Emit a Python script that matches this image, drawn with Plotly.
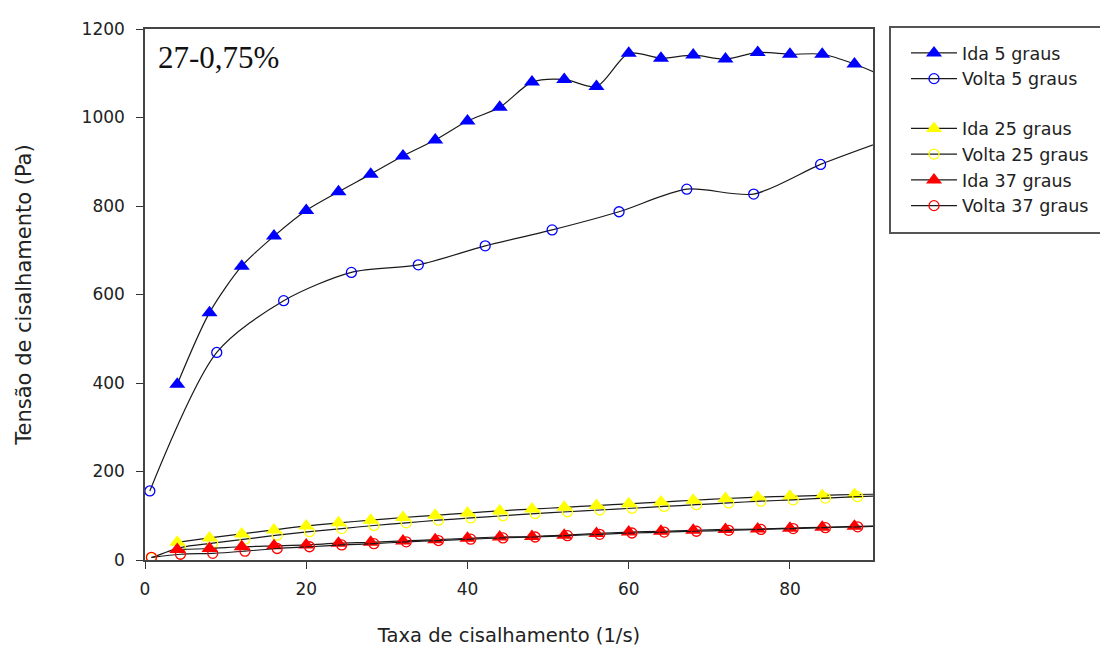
import plotly.graph_objects as go

# ---- data ----
x_ida = [4, 8, 12, 16, 20, 24, 28, 32, 36, 40, 44, 48, 52, 56, 60, 64, 68, 72, 76, 80, 84, 88, 92]
ida_5 = [397, 559, 664, 732, 790, 832, 872, 913, 949, 992, 1023, 1080, 1086, 1070, 1145, 1134, 1141, 1132, 1147, 1143, 1143, 1121, 1090]

x_volta_5 = [0.6, 8.9, 17.2, 25.6, 33.9, 42.2, 50.5, 58.8, 67.2, 75.5, 83.8, 92.1]
volta_5 = [156, 469, 586, 650, 667, 710, 746, 787, 838, 827, 894, 950]

ida_25 = [40, 50, 59, 68, 77, 84, 90, 96, 101, 106, 111, 115, 119, 123, 127, 131, 135, 139, 142, 144, 146, 148, 149]

x_volta = [0.8, 4.4, 8.4, 12.4, 16.4, 20.4, 24.4, 28.4, 32.4, 36.4, 40.4, 44.4, 48.4,
           52.4, 56.4, 60.4, 64.4, 68.4, 72.4, 76.4, 80.4, 84.4, 88.4, 92.4]
volta_25 = [5, 28, 38, 47, 56, 64, 71, 78, 84, 90, 95, 100, 105, 109, 113, 117, 121, 125, 129, 133, 136, 140, 143, 146]

ida_37 = [24, 26, 30, 32, 34, 38, 40, 43, 46, 49, 52, 53, 56, 60, 63, 65, 67, 69, 70, 72, 74, 76, 77]
volta_37 = [6, 13, 15, 20, 26, 30, 34, 37, 41, 44, 47, 50, 52, 55, 58, 61, 63, 65, 67, 69, 71, 73, 75, 77]

names = ["Ida 5 graus", "Volta 5 graus", "Ida 25 graus", "Volta 25 graus", "Ida 37 graus", "Volta 37 graus"]
x_ticks = [0, 20, 40, 60, 80]
y_ticks = [0, 200, 400, 600, 800, 1000, 1200]

BLUE = "#0000ff"
YELLOW = "#ffff00"
RED = "#ff0000"
LINE = "#1a1a1a"

series = [
    (names[0], x_ida, ida_5, "triangle-up", BLUE, "g1"),
    (names[1], x_volta_5, volta_5, "circle-open", BLUE, "g1"),
    (names[2], x_ida, ida_25, "triangle-up", YELLOW, "g2"),
    (names[3], x_volta, volta_25, "circle-open", YELLOW, "g2"),
    (names[4], x_ida, ida_37, "triangle-up", RED, "g2"),
    (names[5], x_volta, volta_37, "circle-open", RED, "g2"),
]

fig = go.Figure()
for name, xs, ys, sym, col, grp in series:
    is_open = sym.endswith("open")
    fig.add_trace(go.Scatter(
        x=xs, y=ys, name=name, mode="lines+markers", legendgroup=grp,
        line=dict(color=LINE, width=1.2, shape="spline", smoothing=0.8),
        marker=dict(symbol=sym, color=col, size=10 if is_open else 14,
                    line=dict(color=col, width=1.3 if is_open else 0)),
    ))

axis_font = dict(family="DejaVu Sans", size=17, color="#222")
fig.update_xaxes(
    range=[0, 90.3], tickvals=x_ticks, ticks="outside", ticklen=7, tickwidth=1.2,
    tickcolor="#333", showline=True, linecolor="#444", linewidth=1.5, mirror=True,
    showgrid=False, zeroline=False, tickfont=axis_font, ticklabelstandoff=6,
    automargin=False,
    title=dict(text="Taxa de cisalhamento (1/s)", font=dict(family="DejaVu Sans", size=19.5, color="#222"), standoff=30),
)
fig.update_yaxes(
    range=[0, 1200], tickvals=y_ticks, ticks="outside", ticklen=7, tickwidth=1.2,
    tickcolor="#333", showline=True, linecolor="#444", linewidth=1.5, mirror=True,
    showgrid=False, zeroline=False, tickfont=axis_font, ticklabelstandoff=8,
    automargin=False,
    title=dict(text="Tensão de cisalhamento (Pa)", font=dict(family="DejaVu Sans", size=21, color="#222"), standoff=44),
)

fig.add_annotation(
    text="27-0,75%", xref="paper", yref="paper", x=0.0155, y=0.946,
    xanchor="left", yanchor="middle", showarrow=False,
    font=dict(family="Liberation Serif", size=31, color="#111"),
)

# legend frame (right side runs off the page, as in the reference)
fig.add_shape(type="rect", xref="paper", yref="paper",
              x0=(890 - 145) / 728, x1=(1110 - 145) / 728,
              y0=(560 - 233) / 531, y1=(560 - 27) / 531,
              line=dict(color="#555", width=2), fillcolor="white", layer="below")

fig.update_layout(
    width=1100, height=647,
    margin=dict(l=145, r=227, t=29, b=87, autoexpand=False),
    plot_bgcolor="white", paper_bgcolor="white",
    legend=dict(
        x=(906 - 145) / 728, y=(560 - 35) / 531, xanchor="left", yanchor="top",
        font=dict(family="DejaVu Sans", size=17.5, color="#222"),
        bgcolor="rgba(0,0,0,0)", borderwidth=0, traceorder="grouped",
        tracegroupgap=24, itemsizing="trace", itemwidth=46,
    ),
)

fig.write_html("out.html")
